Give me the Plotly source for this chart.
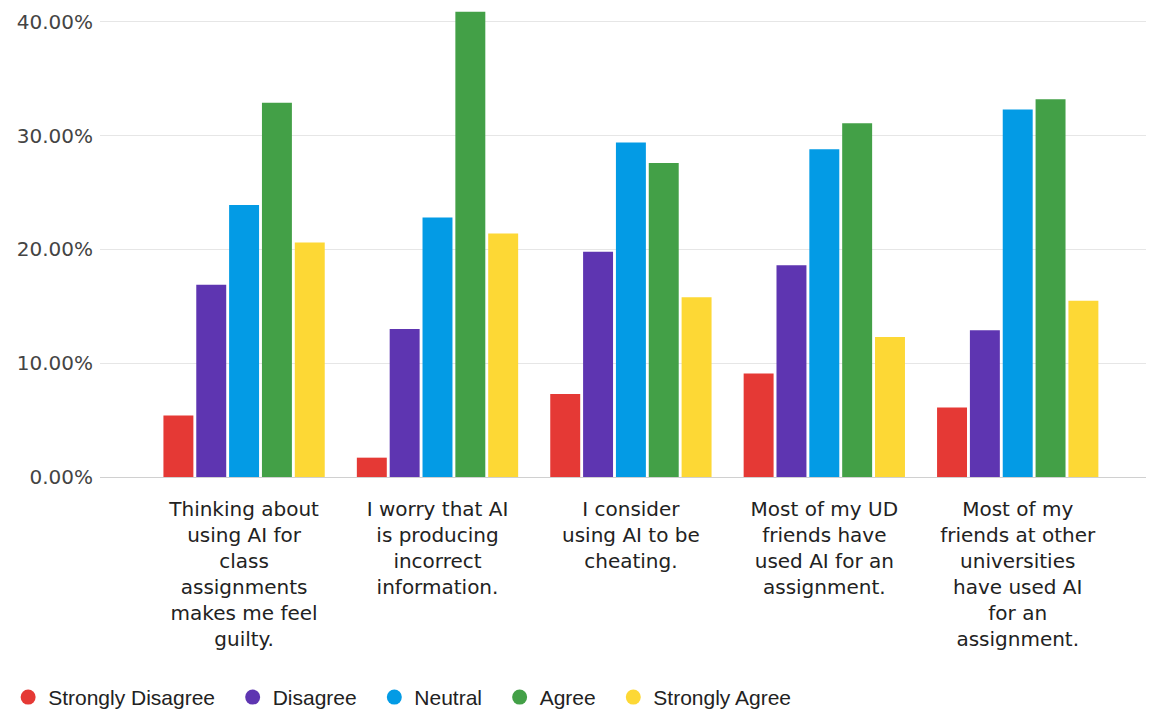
import plotly.graph_objects as go

categories = [
    "Thinking about using AI for class assignments makes me feel guilty.",
    "I worry that AI is producing incorrect information.",
    "I consider using AI to be cheating.",
    "Most of my UD friends have used AI for an assignment.",
    "Most of my friends at other universities have used AI for an assignment.",
]
tick_labels = [
    "Thinking about<br>using AI for<br>class<br>assignments<br>makes me feel<br>guilty.",
    "I worry that AI<br>is producing<br>incorrect<br>information.",
    "I consider<br>using AI to be<br>cheating.",
    "Most of my UD<br>friends have<br>used AI for an<br>assignment.",
    "Most of my<br>friends at other<br>universities<br>have used AI<br>for an<br>assignment.",
]
series_names = ["Strongly Disagree", "Disagree", "Neutral", "Agree", "Strongly Agree"]
strongly_disagree = [5.4, 1.7, 7.3, 9.1, 6.1]
disagree = [16.9, 13.0, 19.8, 18.6, 12.9]
neutral = [23.9, 22.8, 29.4, 28.8, 32.3]
agree = [32.9, 40.9, 27.6, 31.1, 33.2]
strongly_agree = [20.6, 21.4, 15.8, 12.3, 15.5]
y_ticks = [0, 10, 20, 30, 40]
y_tick_labels = ["0.00%", "10.00%", "20.00%", "30.00%", "40.00%"]

series_values = [strongly_disagree, disagree, neutral, agree, strongly_agree]
colors = ["#e53935", "#5e35b1", "#039be5", "#43a047", "#fdd835"]

FONT = "Liberation Sans, Arial, sans-serif"
WIDE = "DejaVu Sans, Liberation Sans, sans-serif"
PAD = "\u2009\u2009\u2009"

fig = go.Figure()
for name, vals, col in zip(series_names, series_values, colors):
    fig.add_trace(go.Bar(
        x=categories, y=vals, name=name, marker_color=col,
        marker_line_width=0, showlegend=False,
    ))
for name, col in zip(series_names, colors):
    fig.add_trace(go.Scatter(
        x=[None], y=[None], mode="markers", name=name + PAD,
        marker=dict(color=col, size=15, symbol="circle"),
    ))

fig.update_layout(
    width=1154, height=710,
    margin=dict(l=86, r=0, t=0, b=237),
    plot_bgcolor="white", paper_bgcolor="white",
    barmode="group", bargap=0.151, bargroupgap=0.088,
    font=dict(family=FONT, size=20, color="#222222"),
    legend=dict(
        orientation="h", x=-0.0865, xanchor="left", y=-0.470, yanchor="middle",
        font=dict(family=FONT, size=21, color="#222222"),
        itemwidth=30,
    ),
    xaxis=dict(
        categoryorder="array", categoryarray=categories,
        tickmode="array", tickvals=categories, ticktext=tick_labels,
        range=[-0.745, 4.746], showgrid=False, zeroline=False,
        ticks="outside", ticklen=14, tickcolor="rgba(0,0,0,0)",
        tickfont=dict(family=WIDE, size=20, color="#222222"),
        showline=False,
    ),
    yaxis=dict(
        range=[0, 41.22], tickmode="array", tickvals=y_ticks, ticktext=y_tick_labels,
        showgrid=True, gridcolor="#e6e6e6", gridwidth=1,
        zeroline=True, zerolinecolor="#d0d0d0", zerolinewidth=1,
        tickfont=dict(family=WIDE, size=20, color="#444444"),
        ticks="", ticklabelstandoff=6,
    ),
)

fig.write_html("out.html")
